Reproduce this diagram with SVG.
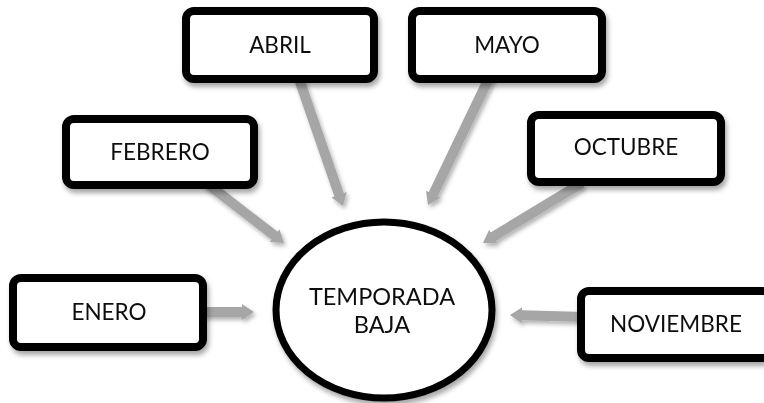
<svg xmlns="http://www.w3.org/2000/svg" width="764" height="403" viewBox="0 0 764 403">
  <style>
    .box { fill: #ffffff; stroke: #000000; stroke-width: 8; }
    .lbl { font-family: Lato, "Liberation Sans", Arial, sans-serif; font-size: 22.5px; fill: #111111; text-anchor: middle; }
    .big { font-size: 23.5px; }
    .arr { stroke: #a6a6a6; stroke-width: 10; fill: none; marker-end: url(#head); }
  </style>
  <defs>
    <filter id="sh" x="-20%" y="-20%" width="150%" height="160%">
      <feDropShadow dx="2" dy="4" stdDeviation="2.5" flood-color="#000000" flood-opacity="0.35"/>
    </filter>
    <filter id="sha" x="-30%" y="-30%" width="160%" height="160%">
      <feDropShadow dx="2" dy="3" stdDeviation="2" flood-color="#000000" flood-opacity="0.3"/>
    </filter>
    <marker id="head" viewBox="0 0 12 16" markerUnits="userSpaceOnUse" markerWidth="12" markerHeight="16" refX="1" refY="8" orient="auto">
      <path d="M0,0 L12,8 L0,16 Z" fill="#a6a6a6"/>
    </marker>
  </defs>
  <rect width="764" height="403" fill="#ffffff"/>
  <g id="connectors" filter="url(#sha)">
    <line class="arr" x1="200" y1="312" x2="243" y2="312"/>
    <line class="arr" x1="205" y1="182" x2="275.3" y2="236.3"/>
    <line class="arr" x1="298" y1="76" x2="339.4" y2="195.6"/>
    <line class="arr" x1="490" y1="76" x2="432.8" y2="195.1"/>
    <line class="arr" x1="582" y1="183" x2="492.4" y2="237.2"/>
    <line class="arr" x1="585" y1="317" x2="521" y2="315.3"/>
  </g>
  <g id="temporada-baja" filter="url(#sh)">
    <ellipse cx="384" cy="310" rx="108" ry="88" fill="#ffffff" stroke="#000000" stroke-width="7"/>
    <text class="lbl big" x="382" y="305">TEMPORADA</text>
    <text class="lbl big" x="382" y="333">BAJA</text>
  </g>
  <g id="enero" filter="url(#sh)">
    <rect class="box" x="13" y="278" width="190" height="69" rx="8"/>
    <text class="lbl" x="109" y="320">ENERO</text>
  </g>
  <g id="febrero" filter="url(#sh)">
    <rect class="box" x="66" y="119" width="188" height="66" rx="8"/>
    <text class="lbl" x="160" y="160">FEBRERO</text>
  </g>
  <g id="abril" filter="url(#sh)">
    <rect class="box" x="186" y="11" width="188" height="68" rx="8"/>
    <text class="lbl" x="280" y="53">ABRIL</text>
  </g>
  <g id="mayo" filter="url(#sh)">
    <rect class="box" x="412" y="11" width="190" height="68" rx="8"/>
    <text class="lbl" x="507" y="53">MAYO</text>
  </g>
  <g id="octubre" filter="url(#sh)">
    <rect class="box" x="531" y="115" width="190" height="67" rx="8"/>
    <text class="lbl" x="626" y="155">OCTUBRE</text>
  </g>
  <g id="noviembre" filter="url(#sh)">
    <rect class="box" x="581" y="291" width="190" height="67" rx="8"/>
    <text class="lbl" x="676" y="332">NOVIEMBRE</text>
  </g>
</svg>
